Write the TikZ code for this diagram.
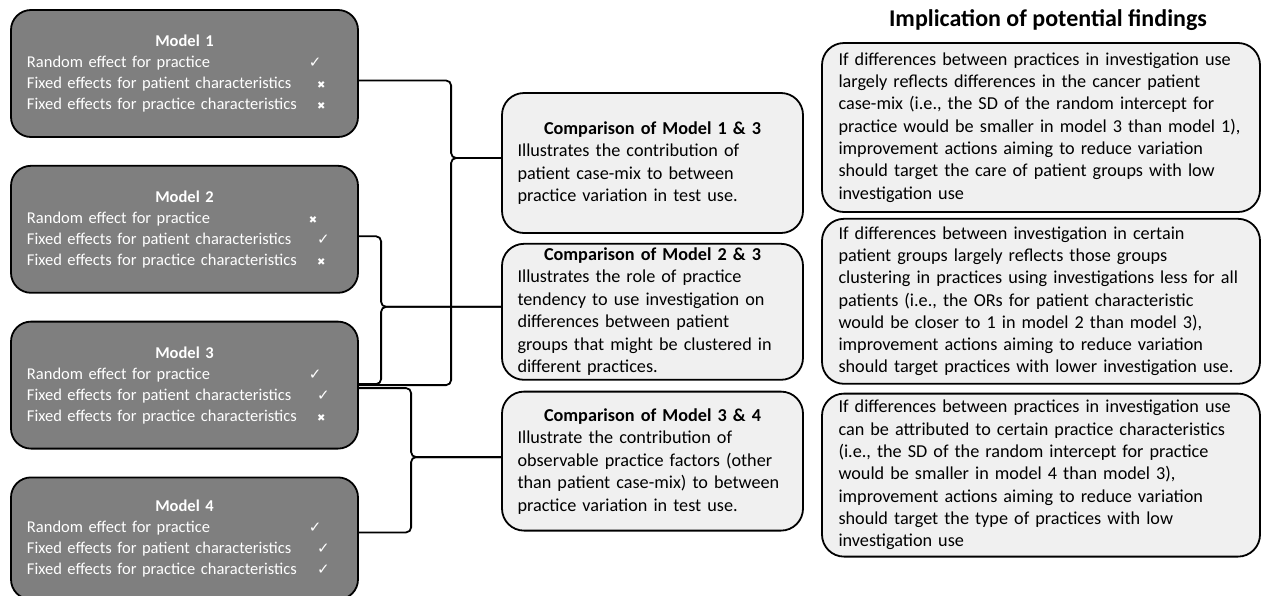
\documentclass[tikz,border=0pt]{standalone}
\usepackage{fontspec}
\setmainfont{Carlito}
\newfontfamily\symfont{DejaVu Sans}
\usetikzlibrary{positioning}
\definecolor{modelgray}{HTML}{7F7F7F}
\definecolor{boxgray}{HTML}{F0F0F0}
\newcommand{\yesmark}{{\symfont\fontsize{15}{15}\selectfont ✓}}
\newcommand{\nomark}{{\symfont\fontsize{10}{10}\selectfont ✖}}
\newcommand{\mrow}[3][282]{\makebox[#1pt][l]{#2}#3}
\hyphenpenalty=10000

\begin{document}
\begin{tikzpicture}[x=1pt, y=-1pt,
model/.style   ={rectangle, draw, line width=1.8pt, rounded corners=20pt, fill=modelgray, text=white, text width=315pt, minimum width=347pt, minimum height=127pt, align=left, font=\fontsize{16.5}{21}\selectfont},
compare/.style ={rectangle, draw, line width=1.8pt, rounded corners=22pt, fill=boxgray, text width=270pt, minimum width=301pt, align=left, font=\fontsize{18.2}{22.5}\selectfont},
finding/.style ={rectangle, draw, line width=1.8pt, rounded corners=22pt, fill=boxgray, text width=405pt, minimum width=438pt, align=left, font=\fontsize{18.2}{22.3}\selectfont},
title/.style   ={font=\bfseries\fontsize{24}{26}\selectfont},
line/.style    ={draw, line width=1.8pt, rounded corners=5pt},
node distance=27pt,
]
\useasboundingbox (0,0) rectangle (1263,595);

% Define the nodes
\node[model]                        (m1) at (184.5,73.5) {\makebox[\linewidth]{\bfseries Model 1}\\ \mrow{Random effect for practice}{\yesmark}\\ \mrow[290]{Fixed effects for patient characteristics}{\nomark}\\ \mrow[290]{Fixed effects for practice characteristics}{\nomark}};
\node[model,   below=of m1]         (m2) {\makebox[\linewidth]{\bfseries Model 2}\\ \mrow{Random effect for practice}{\nomark}\\ \mrow[290]{Fixed effects for patient characteristics}{\yesmark}\\ \mrow[290]{Fixed effects for practice characteristics}{\nomark}};
\node[model,   below=of m2]         (m3) {\makebox[\linewidth]{\bfseries Model 3}\\ \mrow{Random effect for practice}{\yesmark}\\ \mrow[290]{Fixed effects for patient characteristics}{\yesmark}\\ \mrow[290]{Fixed effects for practice characteristics}{\nomark}};
\node[model,   below=of m3, minimum height=122pt] (m4) {\makebox[\linewidth]{\bfseries Model 4}\\ \mrow{Random effect for practice}{\yesmark}\\ \mrow[290]{Fixed effects for patient characteristics}{\yesmark}\\ \mrow[290]{Fixed effects for practice characteristics}{\yesmark}};

\node[compare, minimum height=140pt] (c13) at (652.5,163) {\makebox[\linewidth]{\bfseries Comparison of Model 1 \& 3}\\ Illustrates the contribution of\\ patient case-mix to between\\ practice variation in test use.};
\node[compare, minimum height=136pt, below=9pt of c13]  (c23) {\makebox[\linewidth]{\bfseries Comparison of Model 2 \& 3}\\ Illustrates the role of practice\\ tendency to use investigation on\\ differences between patient\\ groups that might be clustered in\\ different practices.};
\node[compare, minimum height=139pt, below=10pt of c23] (c34) {\makebox[\linewidth]{\bfseries Comparison of Model 3 \& 4}\\ Illustrate the contribution of\\ observable practice factors (other\\ than patient case-mix) to between\\ practice variation in test use.};

\node[title]                        (head) at (1048,20) {Implication of potential findings};
\node[finding, minimum height=169pt] (r1) at (1041,127.5) {If differences between practices in investigation use\\ largely reflects differences in the cancer patient\\ case-mix (i.e., the SD of the random intercept for\\ practice would be smaller in model 3 than model 1),\\ improvement actions aiming to reduce variation\\ should target the care of patient groups with low\\ investigation use};
\node[finding, minimum height=165pt, below=5pt of r1] (r2) {If differences between investigation in certain\\ patient groups largely reflects those groups\\ clustering in practices using investigations less for all\\ patients (i.e., the ORs for patient characteristic\\ would be closer to 1 in model 2 than model 3),\\ improvement actions aiming to reduce variation\\ should target practices with lower investigation use.};
\node[finding, minimum height=163pt, below=8pt of r2] (r3) {If differences between practices in investigation use\\ can be attributed to certain practice characteristics\\ (i.e., the SD of the random intercept for practice\\ would be smaller in model 4 than model 3),\\ improvement actions aiming to reduce variation\\ should target the type of practices with low\\ investigation use};

\coordinate (k13) at ([xshift=-50pt,yshift=5pt]c13.west);
\coordinate (k23) at ([xshift=-120pt,yshift=5pt]c23.west);
\coordinate (k34) at ([xshift=-90pt,yshift=4pt]c34.west);

% Connect the nodes
\path[line] ([yshift=-7pt]m1.east) -| (k13) -- (k13 -| c13.west);
\path[line] (m3.east) -| (k13) -- (k13 -| c13.west);
\path[line] ([yshift=-7pt]m2.east) -| (k23) -- (k23 -| c23.west);
\path[line] ([yshift=1pt]m3.east) -| (k23) -- (k23 -| c23.west);
\path[line] ([yshift=-3pt]m3.east) -| (k34) -- (k34 -| c34.west);
\path[line] ([yshift=6pt]m4.east) -| (k34) -- (k34 -| c34.west);

\end{tikzpicture}
\end{document}
